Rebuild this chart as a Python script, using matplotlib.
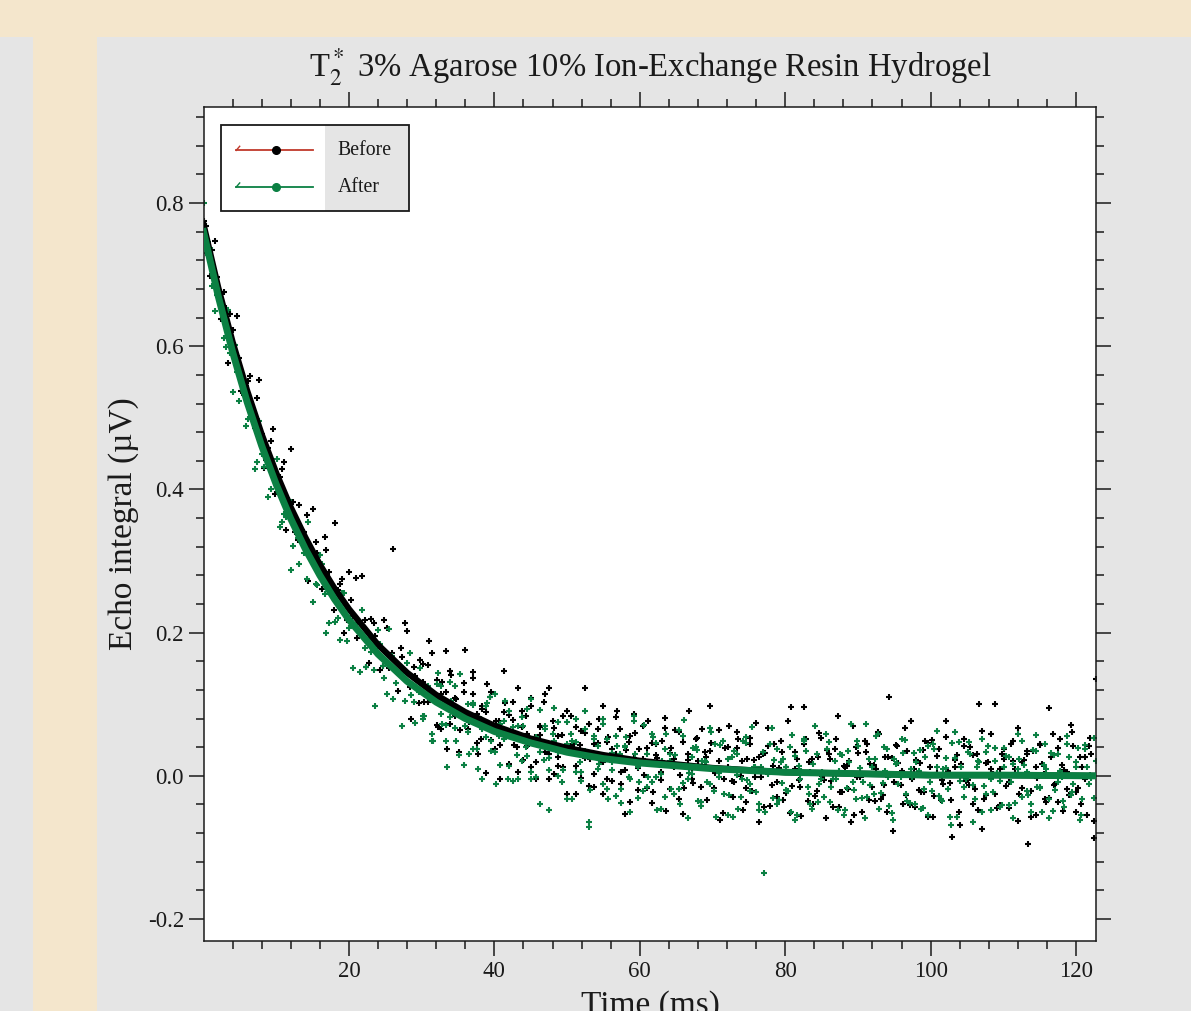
import numpy as np
import matplotlib
matplotlib.use("Agg")
import matplotlib.pyplot as plt
from matplotlib.patches import Rectangle
from matplotlib.ticker import MultipleLocator

# echo integrals (uV), on three interleaved sample grids
before_y = [
    0.775, 0.730, 0.735, 0.696, 0.638, 0.654, 0.645, 0.588, 0.583, 0.532,
    0.552, 0.502, 0.527, 0.478, 0.441, 0.468, 0.393, 0.418, 0.438, 0.372,
    0.383, 0.329, 0.344, 0.364, 0.302, 0.327, 0.287, 0.333, 0.284, 0.232,
    0.260, 0.275, 0.217, 0.245, 0.276, 0.199, 0.218, 0.158, 0.213, 0.182,
    0.153, 0.207, 0.172, 0.147, 0.179, 0.213, 0.124, 0.152, 0.102, 0.131,
    0.155, 0.112, 0.134, 0.066, 0.117, 0.147, 0.084, 0.094, 0.117, 0.066,
    0.137, 0.086, 0.052, 0.089, 0.110, 0.037, 0.077, 0.089, 0.055, 0.103,
    0.040, 0.068, 0.084, 0.013, 0.054, 0.069, 0.103, 0.031, 0.076, 0.014,
    0.057, 0.036, 0.083, 0.014, 0.043, 0.060, -0.014, 0.044, 0.066, 0.020,
    0.047, -0.007, 0.031, 0.066, 0.008, 0.047, 0.087, 0.011, 0.023, -0.017,
    0.046, 0.029, -0.006, 0.067, 0.032, 0.012, -0.033, 0.047, 0.022, -0.004,
    0.053, -0.016, 0.027, 0.035, 0.004, 0.064, -0.004, 0.012, -0.029, 0.039,
    0.021, -0.017, 0.053, -0.001, 0.027, -0.044, 0.042, 0.014, -0.009, 0.033,
    -0.024, 0.096, 0.010, -0.015, 0.044, 0.019, -0.039, 0.027, 0.000, 0.036,
    -0.007, 0.052, -0.023, 0.013, 0.021, -0.054, 0.032, 0.001, 0.044, -0.016,
    0.009, -0.032, 0.027, 0.110, -0.008, 0.018, -0.040, 0.035, -0.005, 0.022,
    -0.022, 0.048, 0.012, -0.028, 0.038, -0.012, 0.007, -0.085, 0.029, 0.016,
    -0.007, 0.040, -0.019, 0.100, -0.032, 0.019, 0.003, -0.045, 0.030, -0.014,
    0.045, 0.009, -0.025, 0.022, -0.095, 0.035, -0.003, 0.017, -0.036, 0.026,
    -0.012, 0.052, 0.008, -0.027, 0.041, -0.017, 0.013, -0.054, 0.031, 0.135,
]
before_y_mid = [
    0.768, 0.698, 0.747, 0.667, 0.676, 0.577, 0.622, 0.642, 0.538, 0.545,
    0.558, 0.486, 0.553, 0.430, 0.458, 0.484, 0.410, 0.428, 0.344, 0.456,
    0.340, 0.378, 0.340, 0.272, 0.372, 0.311, 0.261, 0.316, 0.255, 0.353,
    0.268, 0.200, 0.284, 0.223, 0.192, 0.279, 0.152, 0.219, 0.195, 0.148,
    0.218, 0.151, 0.317, 0.118, 0.166, 0.202, 0.080, 0.139, 0.162, 0.103,
    0.189, 0.115, 0.068, 0.131, 0.038, 0.141, 0.107, 0.064, 0.176, 0.075,
    0.115, 0.030, 0.093, 0.128, 0.050, 0.077, -0.005, 0.102, 0.085, 0.043,
    0.122, 0.022, 0.058, 0.098, -0.004, 0.068, 0.034, 0.123, 0.003, 0.055,
    0.013, 0.091, 0.044, -0.026, 0.063, 0.025, 0.072, -0.015, 0.046, 0.097,
    -0.004, 0.037, 0.082, 0.005, -0.053, 0.056, 0.025, -0.020, 0.069, 0.039,
    -0.038, 0.044, 0.005, 0.081, -0.018, 0.024, 0.061, -0.053, 0.030, 0.010,
    0.051, -0.037, 0.034, 0.097, -0.017, 0.021, -0.052, 0.040, -0.007, 0.061,
    0.000, -0.036, 0.044, 0.022, -0.064, 0.031, 0.067, -0.013, -0.029, 0.049,
    0.012, -0.052, 0.034, -0.006, 0.096, -0.035, 0.023, -0.021, 0.053, -0.059,
    0.024, 0.038, -0.044, 0.014, -0.018, 0.070, -0.002, -0.050, 0.034, 0.016,
    -0.035, 0.059, -0.013, 0.027, -0.077, 0.041, 0.007, -0.027, 0.077, -0.043,
    0.018, -0.022, 0.046, -0.058, 0.028, -0.006, 0.054, -0.034, 0.012, -0.068,
    0.041, -0.013, 0.029, -0.047, 0.063, -0.027, 0.009, 0.101, -0.041, 0.023,
    -0.009, 0.049, -0.063, 0.019, 0.035, -0.021, -0.055, 0.045, 0.003, -0.031,
    0.059, -0.037, 0.015, -0.019, 0.071, -0.051, 0.027, -0.005, 0.041, -0.087,
]
before_y_tail = [
    0.156, 0.103, 0.171, 0.071, 0.115, 0.175, 0.073, 0.109, 0.033, 0.129,
    0.081, 0.145, 0.046, 0.097, 0.004, 0.117, 0.070, 0.043, 0.147, 0.017,
    0.078, 0.006, 0.091, 0.041, 0.109, 0.019, 0.057, 0.114, -0.004, 0.067,
    0.026, 0.084, -0.025, 0.041, 0.068, -0.003, 0.123, 0.024, 0.003, 0.080,
    -0.025, 0.054, 0.025, 0.090, -0.011, 0.036, -0.037, 0.060, 0.037, 0.001,
    0.076, -0.023, 0.025, 0.048, -0.049, 0.039, 0.064, 0.001, -0.017, 0.090,
    -0.010, 0.021, 0.065, -0.034, 0.046, 0.008, -0.061, 0.039, 0.070, -0.008,
    0.052, -0.047, 0.023, -0.021, 0.074, -0.002, 0.032, -0.042, 0.045, 0.011,
    -0.034, 0.076, -0.014, 0.024, -0.056, 0.052, 0.006, -0.028, 0.060, -0.006,
    0.030, -0.044, 0.084, -0.022, 0.014, -0.064, 0.040, -0.002, 0.048, -0.034,
    0.015, 0.061, -0.027, -0.051, 0.025, 0.043, -0.013, 0.067, -0.041, 0.009,
    -0.020, 0.036, -0.058, 0.050, 0.004, -0.034, 0.076, -0.010, 0.022, -0.050,
    0.052, -0.006, -0.040, 0.030, -0.074, 0.018, 0.058, -0.026, 0.010, 0.038,
    -0.045, 0.021, 0.067, -0.017, 0.031, -0.057, 0.013, 0.043, -0.033, 0.095,
    -0.013, 0.039, -0.049, 0.005, 0.061, -0.023, -0.039, 0.027, 0.053, -0.063,
]

after_y = [
    0.800, 0.746, 0.684, 0.672, 0.661, 0.599, 0.591, 0.602, 0.523, 0.540,
    0.499, 0.505, 0.439, 0.450, 0.457, 0.401, 0.415, 0.347, 0.365, 0.385,
    0.321, 0.332, 0.337, 0.275, 0.303, 0.268, 0.309, 0.254, 0.213, 0.255,
    0.220, 0.255, 0.188, 0.209, 0.221, 0.145, 0.179, 0.191, 0.148, 0.204,
    0.154, 0.115, 0.168, 0.129, 0.143, 0.104, 0.171, 0.103, 0.117, 0.079,
    0.123, 0.059, 0.108, 0.126, 0.071, 0.082, 0.125, 0.029, 0.082, 0.061,
    0.099, 0.038, 0.080, 0.054, 0.110, 0.034, 0.055, 0.076, -0.005, 0.068,
    0.029, 0.082, 0.040, 0.006, 0.052, 0.092, 0.022, 0.008, 0.058, 0.033,
    -0.009, 0.045, 0.059, 0.005, 0.020, 0.066, -0.072, 0.030, 0.042, -0.011,
    0.052, 0.008, -0.028, 0.030, 0.042, -0.002, 0.076, 0.012, -0.021, 0.030,
    -0.009, 0.046, 0.003, -0.029, 0.031, 0.016, -0.018, 0.056, -0.005, 0.003,
    0.036, -0.042, 0.020, -0.011, 0.045, 0.004, -0.025, 0.023, -0.058, 0.030,
    -0.005, 0.046, -0.021, 0.012, -0.040, -0.135, 0.004, -0.031, 0.037, -0.010,
    0.013, -0.050, 0.028, -0.005, 0.051, -0.025, 0.017, -0.037, 0.006, 0.038,
    -0.015, -0.004, 0.031, -0.047, 0.019, -0.020, 0.042, -0.008, -0.029, 0.013,
    0.056, -0.024, 0.007, -0.042, 0.023, -0.012, 0.032, -0.035, -0.001, 0.019,
    -0.046, 0.027, -0.008, 0.038, -0.028, 0.009, -0.019, 0.046, -0.057, 0.013,
    -0.005, 0.030, -0.033, 0.019, -0.014, 0.042, -0.023, 0.004, -0.041, 0.028,
    -0.008, -0.038, 0.023, 0.015, -0.027, 0.036, -0.016, -0.050, 0.010, 0.032,
    -0.020, 0.007, -0.044, 0.027, -0.011, 0.039, -0.032, 0.012, -0.003, 0.021,
]
after_y_mid = [
    0.730, 0.737, 0.649, 0.672, 0.611, 0.650, 0.536, 0.564, 0.565, 0.489,
    0.517, 0.428, 0.495, 0.431, 0.390, 0.423, 0.442, 0.355, 0.361, 0.288,
    0.359, 0.296, 0.311, 0.355, 0.243, 0.266, 0.296, 0.199, 0.259, 0.215,
    0.190, 0.256, 0.207, 0.151, 0.213, 0.231, 0.152, 0.173, 0.097, 0.184,
    0.137, 0.205, 0.107, 0.144, 0.070, 0.157, 0.113, 0.074, 0.151, 0.083,
    0.116, 0.048, 0.144, 0.072, 0.013, 0.105, 0.048, 0.142, 0.069, 0.031,
    0.102, 0.009, 0.065, 0.102, 0.035, -0.011, 0.073, 0.104, 0.014, 0.056,
    -0.004, 0.070, 0.028, 0.108, -0.001, 0.033, 0.069, -0.048, 0.048, 0.075,
    0.008, -0.032, 0.049, 0.080, -0.007, 0.035, -0.064, 0.051, 0.010, 0.079,
    -0.019, 0.032, 0.055, -0.038, 0.040, -0.005, 0.084, -0.031, 0.019, -0.016,
    0.059, -0.001, -0.046, 0.038, 0.021, -0.025, 0.064, -0.010, -0.059, 0.027,
    0.040, -0.036, 0.021, 0.067, -0.021, -0.002, 0.048, -0.054, 0.027, 0.001,
    -0.029, 0.054, -0.012, 0.012, -0.048, 0.033, 0.003, 0.067, -0.039, 0.019,
    -0.020, 0.040, -0.062, 0.014, 0.048, -0.016, -0.046, 0.030, -0.004, 0.058,
    -0.037, 0.021, 0.007, -0.055, 0.035, -0.009, 0.049, -0.031, 0.073, -0.013,
    0.024, -0.046, 0.040, -0.002, -0.062, 0.018, 0.052, -0.026, 0.010, -0.040,
    0.036, -0.018, -0.054, 0.044, 0.012, -0.035, 0.025, -0.069, 0.061, -0.007,
    -0.029, 0.047, -0.013, 0.021, -0.051, 0.033, -0.005, 0.039, -0.043, 0.013,
    0.027, -0.059, 0.009, 0.049, -0.021, -0.039, 0.057, -0.015, 0.015, -0.033,
    -0.049, 0.031, -0.001, 0.045, -0.027, 0.019, -0.061, 0.037, -0.011, 0.053,
]
after_y_tail = [
    0.083, 0.125, 0.048, 0.128, 0.086, 0.048, 0.131, 0.067, 0.092, 0.015,
    0.100, 0.037, 0.076, -0.005, 0.097, 0.048, 0.114, 0.015, 0.051, 0.091,
    -0.007, 0.069, 0.021, 0.093, -0.005, 0.054, -0.040, 0.065, 0.025, 0.095,
    0.000, 0.037, 0.075, -0.032, 0.047, 0.006, 0.091, -0.020, 0.055, 0.016,
    0.072, -0.033, 0.019, 0.042, -0.019, 0.054, -0.050, 0.031, -0.008, 0.071,
    -0.002, 0.054, -0.047, 0.021, 0.058, -0.018, 0.029, -0.039, 0.078, 0.004,
    0.039, -0.035, 0.021, -0.009, 0.061, -0.057, 0.043, 0.009, -0.027, 0.035,
    -0.046, 0.048, -0.006, 0.068, -0.022, 0.012, -0.050, 0.044, 0.022, -0.034,
    0.023, -0.021, 0.057, -0.055, 0.007, 0.035, -0.039, 0.069, -0.011, -0.029,
    0.047, -0.005, -0.047, 0.029, -0.017, 0.073, -0.033, 0.011, -0.059, 0.023,
    -0.026, 0.058, -0.010, 0.038, -0.052, 0.016, -0.002, 0.050, -0.038, 0.032,
    0.007, -0.045, 0.041, -0.021, 0.063, -0.033, 0.011, -0.057, 0.025, 0.047,
    -0.015, 0.033, -0.065, 0.013, 0.051, -0.025, -0.047, 0.021, -0.007, 0.039,
    -0.041, 0.017, 0.059, -0.029, 0.005, -0.051, 0.035, -0.017, 0.045, -0.059,
    0.029, -0.009, -0.035, 0.055, -0.023, 0.013, -0.055, 0.043, 0.001, -0.031,
]

# fitted decay curves, read at these times
fit_t = [0, 2, 4, 6, 8, 10, 12, 14, 16, 18, 20, 24, 28, 32, 36, 40,
         45, 50, 55, 60, 70, 80, 90, 100, 110, 122.75]
fit_before = [0.770, 0.683, 0.606, 0.538, 0.477, 0.423, 0.375, 0.333, 0.295,
              0.262, 0.233, 0.183, 0.144, 0.113, 0.089, 0.070, 0.052, 0.039,
              0.029, 0.021, 0.011, 0.005, 0.003, 0.001, 0.001, 0.000]
fit_after = [0.760, 0.671, 0.592, 0.522, 0.461, 0.407, 0.359, 0.317, 0.280,
             0.247, 0.218, 0.170, 0.132, 0.103, 0.080, 0.062, 0.046, 0.033,
             0.024, 0.018, 0.010, 0.005, 0.003, 0.001, 0.001, 0.000]

x_ticks = [20, 40, 60, 80, 100, 120]
y_ticks = [-0.2, 0.0, 0.2, 0.4, 0.6, 0.8]
y_tick_labels = ["-0.2", "0.0", "0.2", "0.4", "0.6", "0.8"]

# sample times (ms) of the three grids
t_main = np.linspace(0.0, 122.7, len(before_y))
t_mid = np.linspace(0.31, 122.4, len(before_y_mid))
t_tail = np.linspace(30.2, 122.5, len(before_y_tail))

GREEN = "#0b8043"
RED = "#c0392b"
BEIGE = "#f4e6cc"
GREY = "#e5e5e5"
INK = "#1a1a1a"

plt.rcParams["font.family"] = ["Liberation Serif", "DejaVu Serif"]
plt.rcParams["mathtext.fontset"] = "stix"
plt.rcParams["axes.unicode_minus"] = False

fig = plt.figure(figsize=(11.91, 10.11), dpi=100, facecolor=GREY)
fig.add_artist(Rectangle((0, 0.9634), 1, 0.0366, transform=fig.transFigure,
                         facecolor=BEIGE, edgecolor="none"))
fig.add_artist(Rectangle((0.0277, 0), 0.0537, 0.9634, transform=fig.transFigure,
                         facecolor=BEIGE, edgecolor="none"))

ax = fig.add_axes([0.1713, 0.0692, 0.7490, 0.8249])
ax.set_facecolor("white")

pts = dict(ms=4.6, mew=1.5, ls="none", marker="+", zorder=2)
for t, y in [(t_main, before_y), (t_mid, before_y_mid), (t_tail, before_y_tail)]:
    ax.plot(t, y, color="black", **pts)
for t, y in [(t_main, after_y), (t_mid, after_y_mid), (t_tail, after_y_tail)]:
    ax.plot(t, y, color=GREEN, **pts)
ax.plot(fit_t, fit_before, color="black", lw=4.5, zorder=3)
ax.plot(fit_t, fit_after, color=GREEN, lw=5, zorder=4)

ax.set_xlim(0.07, 122.75)
ax.set_ylim(-0.2307, 0.934)
ax.set_xticks(x_ticks)
ax.set_yticks(y_ticks)
ax.set_yticklabels(y_tick_labels)
ax.xaxis.set_minor_locator(MultipleLocator(4))
ax.yaxis.set_minor_locator(MultipleLocator(0.04))
ax.tick_params(which="both", direction="out", top=True, right=True,
               labeltop=False, labelright=False, width=1.1, colors=INK,
               labelsize=16.5, labelcolor=INK)
ax.tick_params(which="major", length=10.5, pad=4)
ax.tick_params(which="minor", length=5.5)
for sp in ax.spines.values():
    sp.set_linewidth(1.1)
    sp.set_color(INK)

ax.set_title(r"T$_2^*$ 3% Agarose 10% Ion-Exchange Resin Hydrogel",
             fontsize=23.5, color=INK, pad=22)
ax.set_xlabel("Time (ms)", fontsize=24, color=INK, labelpad=6)
ax.set_ylabel("Echo integral (\u00b5V)", fontsize=24, color=INK, labelpad=6)

# legend box drawn by hand: white half with line samples, grey half with text
ax.add_patch(Rectangle((0.019, 0.875), 0.117, 0.103, transform=ax.transAxes,
                       facecolor="white", edgecolor="none", zorder=5))
ax.add_patch(Rectangle((0.136, 0.875), 0.094, 0.103, transform=ax.transAxes,
                       facecolor=GREY, edgecolor="none", zorder=5))
ax.add_patch(Rectangle((0.019, 0.875), 0.211, 0.103, transform=ax.transAxes,
                       facecolor="none", edgecolor=INK, lw=1.3, zorder=6))
for ly, col, mcol, name in [(0.948, RED, "black", "Before"),
                            (0.904, GREEN, GREEN, "After")]:
    ax.plot([0.036, 0.122], [ly, ly], color=col, lw=1.3,
            transform=ax.transAxes, zorder=6)
    ax.plot([0.036, 0.040], [ly, ly + 0.005], color=col, lw=1.0,
            transform=ax.transAxes, zorder=6)
    ax.plot([0.081], [ly], "o", color=mcol, ms=5.5,
            transform=ax.transAxes, zorder=7)
    ax.text(0.150, ly, name, fontsize=14.3, color=INK, va="center",
            transform=ax.transAxes, zorder=7)

fig.savefig("out.png", dpi=100, facecolor=fig.get_facecolor())
